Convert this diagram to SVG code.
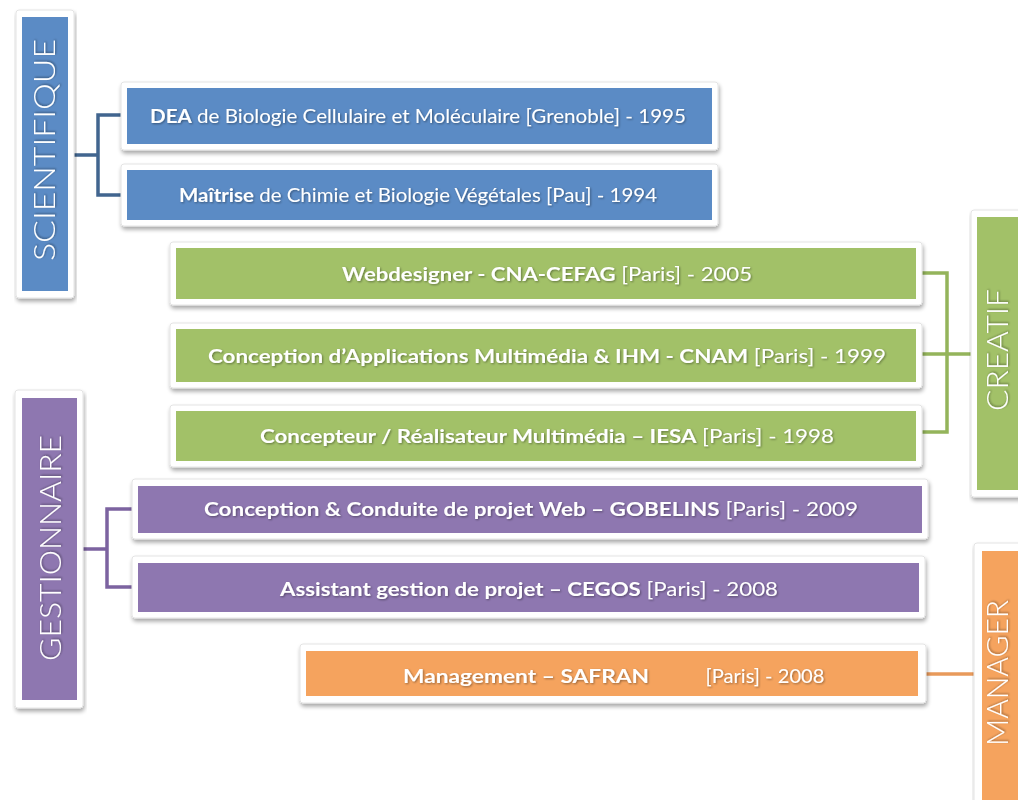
<svg xmlns="http://www.w3.org/2000/svg" width="1018" height="800" viewBox="0 0 1018 800">
<defs>
<filter id="sh" x="-5%" y="-20%" width="110%" height="150%">
<feGaussianBlur in="SourceAlpha" stdDeviation="2"/>
<feOffset dx="1" dy="3" result="b"/>
<feComponentTransfer><feFuncA type="linear" slope="0.35"/></feComponentTransfer>
<feMerge><feMergeNode/><feMergeNode in="SourceGraphic"/></feMerge>
</filter>
<filter id="ts" x="-5%" y="-30%" width="110%" height="160%">
<feGaussianBlur in="SourceAlpha" stdDeviation="0.8"/>
<feOffset dx="1" dy="1"/>
<feComponentTransfer><feFuncA type="linear" slope="0.4"/></feComponentTransfer>
<feMerge><feMergeNode/><feMergeNode in="SourceGraphic"/></feMerge>
</filter>
</defs>
<style>
.frame{fill:#ffffff;stroke:#e4e4e4;stroke-width:1;filter:url(#sh)}
.blue{fill:#5b8bc5}
.green{fill:#a2c168}
.purple{fill:#8e77b0}
.orange{fill:#f5a35e}
text{font-family:Lato,"Open Sans","Liberation Sans",sans-serif;fill:#ffffff;filter:url(#ts)}
.t{font-size:19px;text-anchor:middle}
.b{font-weight:bold}
.v{font-size:29px;font-weight:300;text-anchor:middle}
.cb{fill:none;stroke:#41658f;stroke-width:3.5}
.cg{fill:none;stroke:#94b45b;stroke-width:3.5}
.cp{fill:none;stroke:#7c63a0;stroke-width:3.5}
.co{fill:none;stroke:#e89a5b;stroke-width:3.5}
</style>
<rect width="1018" height="800" fill="#ffffff"/>

<g id="connectors">
<path class="cb" d="M74 155 H98 M123 115 H98 V195 H123"/>
<path class="cg" d="M922 273 H947 V432 H922 M922 354 H971"/>
<path class="cp" d="M83 549 H107 M132 509 H107 V587 H132"/>
<path class="co" d="M924 674 H974"/>
</g>

<g id="scientifique">
<rect class="frame" x="16" y="10" width="58" height="288" rx="3"/>
<rect class="blue" x="22" y="17" width="46" height="274"/>
<text class="v" transform="translate(55 150) rotate(-90)" textLength="222" lengthAdjust="spacingAndGlyphs">SCIENTIFIQUE</text>
</g>

<g id="dea">
<rect class="frame" x="121" y="82" width="597" height="68" rx="3"/>
<rect class="blue" x="127" y="88" width="585" height="56"/>
<text class="t" x="418" y="123" textLength="536" lengthAdjust="spacingAndGlyphs"><tspan class="b">DEA</tspan> de Biologie Cellulaire et Moléculaire [Grenoble] - 1995</text>
</g>

<g id="maitrise">
<rect class="frame" x="121" y="164" width="597" height="62" rx="3"/>
<rect class="blue" x="127" y="170" width="585" height="50"/>
<text class="t" x="418" y="202" textLength="478" lengthAdjust="spacingAndGlyphs"><tspan class="b">Maîtrise</tspan> de Chimie et Biologie Végétales [Pau] - 1994</text>
</g>

<g id="creatif">
<rect class="frame" x="971" y="210" width="60" height="287" rx="3"/>
<rect class="green" x="977" y="217" width="50" height="273"/>
<text class="v" transform="translate(1008 350) rotate(-90)" textLength="122" lengthAdjust="spacingAndGlyphs">CREATIF</text>
</g>

<g id="webdesigner">
<rect class="frame" x="170" y="242" width="752" height="63" rx="3"/>
<rect class="green" x="176" y="248" width="740" height="51"/>
<text class="t" x="547" y="281" textLength="410" lengthAdjust="spacingAndGlyphs"><tspan class="b">Webdesigner - CNA-CEFAG</tspan> [Paris] - 2005</text>
</g>

<g id="cnam">
<rect class="frame" x="170" y="323" width="752" height="65" rx="3"/>
<rect class="green" x="176" y="329" width="740" height="53"/>
<text class="t" x="547" y="363" textLength="678" lengthAdjust="spacingAndGlyphs"><tspan class="b">Conception d’Applications Multimédia &amp; IHM - CNAM</tspan> [Paris] - 1999</text>
</g>

<g id="iesa">
<rect class="frame" x="170" y="405" width="752" height="62" rx="3"/>
<rect class="green" x="176" y="411" width="740" height="50"/>
<text class="t" x="547" y="443" textLength="574" lengthAdjust="spacingAndGlyphs"><tspan class="b">Concepteur / Réalisateur Multimédia – IESA</tspan> [Paris] - 1998</text>
</g>

<g id="gestionnaire">
<rect class="frame" x="15" y="390" width="68" height="318" rx="3"/>
<rect class="purple" x="22" y="398" width="55" height="302"/>
<text class="v" transform="translate(61 548) rotate(-90)" textLength="226" lengthAdjust="spacingAndGlyphs">GESTIONNAIRE</text>
</g>

<g id="gobelins">
<rect class="frame" x="132" y="479" width="796" height="60" rx="3"/>
<rect class="purple" x="138" y="486" width="784" height="47"/>
<text class="t" x="531" y="516" textLength="654" lengthAdjust="spacingAndGlyphs"><tspan class="b">Conception &amp; Conduite de projet Web – GOBELINS</tspan> [Paris] - 2009</text>
</g>

<g id="cegos">
<rect class="frame" x="132" y="556" width="793" height="62" rx="3"/>
<rect class="purple" x="138" y="563" width="781" height="49"/>
<text class="t" x="529" y="596" textLength="498" lengthAdjust="spacingAndGlyphs"><tspan class="b">Assistant gestion de projet – CEGOS</tspan> [Paris] - 2008</text>
</g>

<g id="manager">
<rect class="frame" x="974" y="543" width="60" height="270" rx="3"/>
<rect class="orange" x="982" y="551" width="50" height="260"/>
<text class="v" transform="translate(1008 673) rotate(-90)" textLength="146" lengthAdjust="spacingAndGlyphs">MANAGER</text>
</g>

<g id="safran">
<rect class="frame" x="300" y="644" width="626" height="59" rx="3"/>
<rect class="orange" x="306" y="651" width="612" height="45"/>
<text class="t b" x="526" y="683" textLength="246" lengthAdjust="spacingAndGlyphs">Management – SAFRAN</text>
<text class="t" x="765" y="683" textLength="119" lengthAdjust="spacingAndGlyphs">[Paris] - 2008</text>
</g>
</svg>
